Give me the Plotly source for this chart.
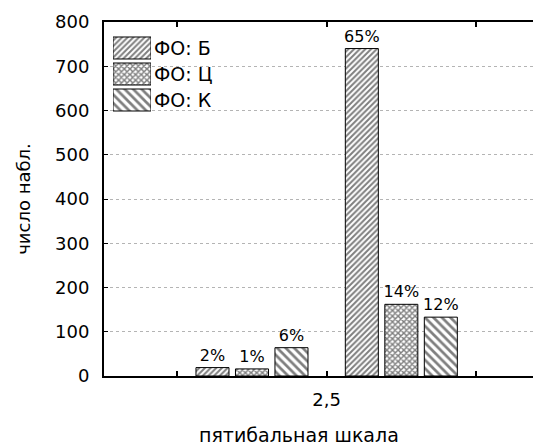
import plotly.graph_objects as go

# ---- data ----
series_names = ["ФО: Б", "ФО: Ц", "ФО: К"]
group_x = [2.25, 2.75]
values_B = [19, 740]
values_C = [16, 162]
values_K = [64, 133]
labels_B = ["2%", "65%"]
labels_C = ["1%", "14%"]
labels_K = ["6%", "12%"]
patterns = ["/", "x", "\\"]
pattern_sizes = [4, 4, 6]
pattern_solidity = [0.5, 0.6, 0.45]
y_ticks = [0, 100, 200, 300, 400, 500, 600, 700, 800]
x_tickvals = [2, 2.5, 3]
x_ticktext = ["", "2,5", ""]

FONT = "DejaVu Sans"
fig = go.Figure()

series = [(values_B, labels_B), (values_C, labels_C), (values_K, labels_K)]
for i, (vals, labs) in enumerate(series):
    fig.add_trace(go.Bar(
        x=group_x, y=vals, name=series_names[i], text=labs,
        textposition="outside", cliponaxis=False, constraintext="none",
        textfont=dict(family=FONT, size=16, color="black"),
        marker=dict(color="white", line=dict(color="black", width=1),
                    pattern=dict(shape=patterns[i], size=pattern_sizes[i],
                                 solidity=pattern_solidity[i], fgcolor="black",
                                 bgcolor="white", fillmode="overlay")),
        showlegend=False, hoverinfo="skip",
    ))

# legend swatches drawn as a small bar chart
fig.add_trace(go.Bar(
    y=series_names, x=[1, 1, 1], orientation="h", width=0.846,
    xaxis="x2", yaxis="y2",
    marker=dict(color="white", line=dict(color="black", width=1),
                pattern=dict(shape=patterns, size=pattern_sizes,
                             solidity=pattern_solidity, fgcolor="black",
                             bgcolor="white", fillmode="overlay")),
    showlegend=False, hoverinfo="skip",
))

fig.update_layout(
    width=533, height=448,
    margin=dict(l=96, r=0, t=14, b=80),
    paper_bgcolor="white", plot_bgcolor="white",
    barmode="group", bargap=0.2066, bargroupgap=0.164,
    font=dict(family=FONT, size=18, color="black"),
    xaxis=dict(range=[1.7546, 3.2176], tickvals=x_tickvals, ticktext=x_ticktext,
               ticks="inside", ticklen=5, tickwidth=2, tickcolor="black",
               showline=True, linewidth=2, linecolor="black", mirror="ticks",
               showgrid=False, zeroline=False, ticklabelstandoff=6,
               tickfont=dict(size=18)),
    yaxis=dict(range=[0, 800], tickvals=y_ticks,
               ticks="inside", ticklen=4, tickwidth=1, tickcolor="black",
               showline=True, linewidth=2, linecolor="black",
               showgrid=True, gridcolor="#b4b4b4", griddash="dot", gridwidth=1,
               zeroline=False, ticklabelstandoff=9,
               title=dict(text="число набл.", standoff=20, font=dict(size=18)),
               tickfont=dict(size=18)),
    xaxis2=dict(domain=[0.0206, 0.1076], range=[0, 1], anchor="y2",
                visible=False, fixedrange=True),
    yaxis2=dict(domain=[0.7429, 0.9633], anchor="x2", side="right",
                type="category", autorange="reversed",
                showline=False, showgrid=False, zeroline=False, ticks="",
                ticklabelstandoff=2, tickfont=dict(size=19)),
    annotations=[dict(text="пятибальная шкала", xref="paper", yref="paper",
                      x=0.446, y=-0.167, xanchor="center", yanchor="middle",
                      showarrow=False, font=dict(size=19))],
)

fig.write_html("out.html")
